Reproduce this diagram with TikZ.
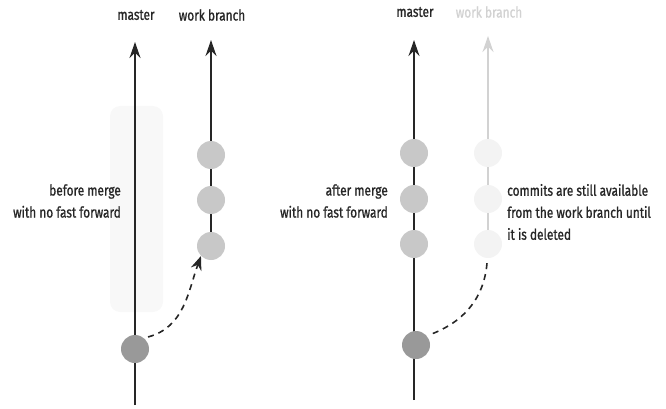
\documentclass[tikz,border=0pt]{standalone}
\usepackage{fontspec}
\newfontfamily\condfont[FakeStretch=0.79, FakeBold=1]{Fira Sans}
\usepackage{tikz}
\usetikzlibrary{calc, positioning, arrows.meta}
\usepackage{xcolor}

\definecolor{commitgray}{HTML}{C8C8C8}
\definecolor{commitdark}{HTML}{999999}
\definecolor{commitpale}{HTML}{F3F3F3}
\definecolor{branchpale}{HTML}{D2D2D2}
\definecolor{bgshade}{HTML}{F8F8F8}

\begin{document}
\begin{tikzpicture}[
			x=1pt, y=-1pt,
			>=Stealth,
			commit/.style={circle, draw=none, fill=commitgray, minimum size=28pt, inner sep=0pt},
			label/.style={font=\condfont\fontsize{15}{22}\selectfont, inner sep=0pt, text=black!85},
			branch/.style={-{Stealth[length=16pt, width=11pt]}, line width=1.4pt, color=black!85},
			merge/.style={line width=1.6pt, color=black!85, dash pattern=on 6pt off 5pt},
			]
			\useasboundingbox (0,0) rectangle (666,409);
			
			% ── Before merge ─────────────────────────────────────────────────
			\fill[bgshade, rounded corners=10pt] (110,106) rectangle (163,312);
			
			\node[label] (lm) at (136,15) {master};
			\node[label] (lw) at (212,15) {work branch};
			
			\coordinate (mtop) at (135,42);
			\coordinate (mbot) at (135,405);
			\coordinate (wtop) at (211,40);
			
			\draw[branch] (mbot) -- (mtop);
			\draw[branch] (211,246) -- (wtop);
			
			\node[commit] (w1) at (211,155) {};
			\node[commit] (w2) at (211,200) {};
			\node[commit] (w3) at (211,246) {};
			\node[commit, fill=commitdark] (m0) at (135,349) {};
			
			\draw[merge, -{Stealth[length=14pt, width=11pt]}] (m0.north east) ++(3,-2)
				to[out=15, in=-110] (w3.south west);
			
			\node[label, anchor=east, align=right] (tb) at (121,201)
				{before merge\\with no fast forward};
			
			% ── After merge ──────────────────────────────────────────────────
			\node[label] (rm) at (415,12) {master};
			\node[label, text=branchpale] (rw) at (489,12) {work branch};
			
			\coordinate (rmtop) at (414,40);
			\coordinate (rmbot) at (414,400);
			\coordinate (rwtop) at (488,36);
			
			\draw[branch] (rmbot) -- (rmtop);
			\draw[branch, color=branchpale] (488,244) -- (rwtop);
			
			\node[commit] (r1) at (414,153) {};
			\node[commit] (r2) at (414,199) {};
			\node[commit] (r3) at (414,244) {};
			\node[commit, fill=commitpale] (p1) at (488,153) {};
			\node[commit, fill=commitpale] (p2) at (488,199) {};
			\node[commit, fill=commitpale] (p3) at (488,244) {};
			\node[commit, fill=commitdark] (r0) at (416,345) {};
			
			\draw[merge] (p3.south) ++(-1,5) to[out=-95, in=20] ($(r0.north east)+(3,0)$);
			
			\node[label, anchor=east, align=right] (ta) at (388,201)
				{after merge\\with no fast forward};
			\node[label, anchor=west, align=left] (tc) at (507,212)
				{commits are still available\\from the work branch until\\it is deleted};
			
		\end{tikzpicture}
\end{document}
